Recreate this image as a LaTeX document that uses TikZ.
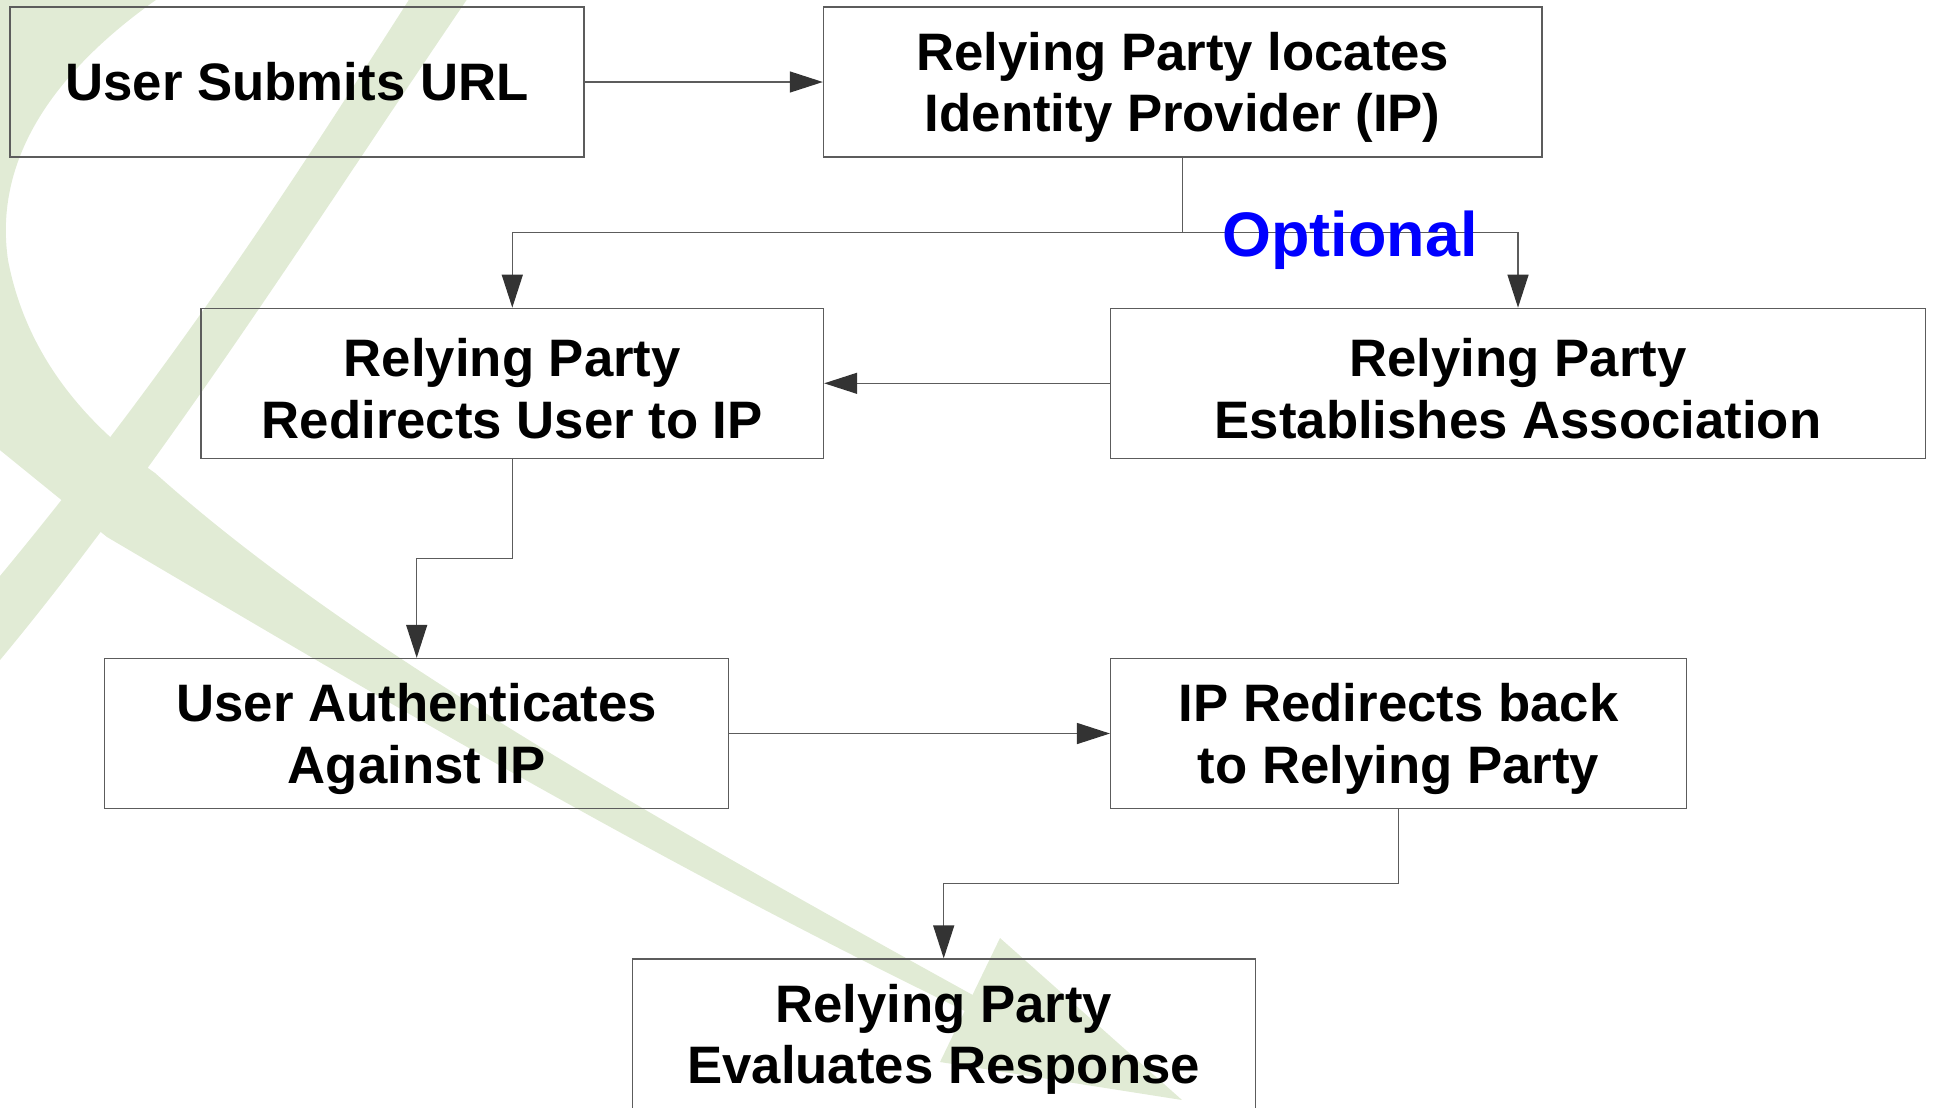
\documentclass[tikz,border=0pt]{standalone}
\usepackage{fontspec}
\setmainfont{Liberation Sans}
\usepackage{xcolor}
\usepackage{tikz}
\usetikzlibrary{arrows.meta,calc}
\definecolor{swoosh}{HTML}{E1EBD5}
\definecolor{edge}{HTML}{5C5C5C}
\definecolor{tipgray}{HTML}{333333}
\definecolor{optblue}{HTML}{0000FF}
\newcommand{\topstrut}{\rule{0pt}{4.9mm}}

\begin{document}
\begin{tikzpicture}[x=0.1mm, y=-0.1mm,
  >={Triangle[length=3.3mm, width=2.1mm, color=tipgray]},
  stepbox/.style={draw=edge, line width=0.13mm, align=center, inner sep=0pt,
    minimum height=15mm, font=\fontsize{15}{17.4}\selectfont\bfseries},
  flow/.style={draw=edge, line width=0.13mm, ->}]
  \useasboundingbox (0,0) rectangle (1933,1107);
  \clip (0,0) rectangle (1933,1107);

  % background swoosh
  \fill[swoosh] (-40,-5) -- (163,-5) .. controls (40,80) and (-5,170) .. (8,260)
    .. controls (25,350) and (80,420) .. (155,473)
    .. controls (330,630) and (600,790) .. (1000,1010)
    -- (1000,1028) .. controls (650,860) and (350,680) .. (107,537)
    -- (-10,442) -- (-40,442) -- cycle;
  \fill[swoosh] (412,-5) .. controls (300,170) and (180,360) .. (-10,588)
    -- (-10,672) .. controls (160,470) and (330,200) .. (470,-5) -- cycle;
  \fill[swoosh] (1000,938) -- (940,1062) -- (1182,1100) -- cycle;

  \node[stepbox, minimum width=57.4mm] (url) at (297,82) {User Submits URL};
  \node[stepbox, minimum width=71.85mm] (locate) at (1182.7,82) {\topstrut Relying Party locates\\Identity Provider (IP)};
  \node[stepbox, minimum width=62.25mm] (redir) at (512.3,383.3) {\topstrut Relying Party\\Redirects User to IP};
  \node[stepbox, minimum width=81.5mm] (assoc) at (1518,383.3) {\topstrut Relying Party\\Establishes Association};
  \node[stepbox, minimum width=62.4mm] (auth) at (416.7,733.5) {\topstrut User Authenticates\\Against IP};
  \node[stepbox, minimum width=57.6mm] (back) at (1398.6,733.5) {\topstrut IP Redirects back\\to Relying Party};
  \node[stepbox, minimum width=62.3mm] (eval) at (943.7,1034) {\topstrut Relying Party\\Evaluates Response};

  \draw[flow] (url) -- (locate);
  \coordinate (fork) at ($(locate.south)!0.5!(locate.south |- redir.north)$);
  \draw[flow] (locate.south) -- (fork) -| (redir.north);
  \draw[flow] (fork) -| (assoc.north);
  \draw[flow] (assoc) -- (redir);
  \draw[flow] (redir.south) -- ($(redir.south)!0.5!(redir.south |- auth.north)$) -| (auth.north);
  \draw[flow] (auth) -- (back);
  \draw[flow] (back.south) -- ($(back.south)!0.5!(back.south |- eval.north)$) -| (eval.north);

  \node[font=\fontsize{17.9}{20}\selectfont\bfseries, text=optblue, anchor=base, inner sep=0pt] (opt) at (1350,256.5) {Optional};
\end{tikzpicture}
\end{document}
